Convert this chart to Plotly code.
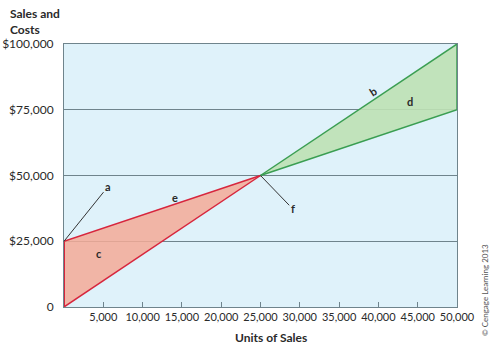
import plotly.graph_objects as go

units = [0, 25000, 50000]
sales = [0, 50000, 100000]
costs = [25000, 50000, 75000]
x_ticks = [5000, 10000, 15000, 20000, 25000, 30000, 35000, 40000, 45000, 50000]
x_labels = ["5,000", "10,000", "15,000", "20,000", "25,000", "30,000", "35,000", "40,000", "45,000", "50,000"]
y_ticks = [0, 25000, 50000, 75000, 100000]
y_labels = ["0", "$25,000", "$50,000", "$75,000", "$100,000"]

RED = "#d7263d"
RED_FILL = "rgba(244,170,150,0.85)"
GREEN = "#3a9e52"
GREEN_FILL = "rgba(190,225,180,0.9)"
GRID = "#6f848c"
TXT = "#2a2a2a"
FONT = "Lato"

fig = go.Figure()
# loss region
fig.add_trace(go.Scatter(x=units[:2], y=costs[:2], mode="lines", line=dict(color=RED, width=1.5), hoverinfo="skip"))
fig.add_trace(go.Scatter(x=units[:2], y=sales[:2], mode="lines", line=dict(color=RED, width=1.5),
                         fill="tonexty", fillcolor=RED_FILL, hoverinfo="skip"))
fig.add_trace(go.Scatter(x=[units[0], units[0]], y=[sales[0], costs[0]], mode="lines",
                         line=dict(color=RED, width=2), hoverinfo="skip"))
# profit region
fig.add_trace(go.Scatter(x=units[1:], y=costs[1:], mode="lines", line=dict(color=GREEN, width=1.5), hoverinfo="skip"))
fig.add_trace(go.Scatter(x=units[1:], y=sales[1:], mode="lines", line=dict(color=GREEN, width=1.5),
                         fill="tonexty", fillcolor=GREEN_FILL, hoverinfo="skip"))
fig.add_trace(go.Scatter(x=[units[2], units[2]], y=[costs[2], sales[2]], mode="lines",
                         line=dict(color=GREEN, width=1.5), hoverinfo="skip"))

lab = dict(family=FONT, size=11, color=TXT)
ann = [
    dict(x=units[0], y=costs[0], ax=5600, ay=45800, axref="x", ayref="y", text="<b>a</b>",
         showarrow=True, arrowhead=0, arrowwidth=1, arrowcolor="#333", standoff=0, font=lab),
    dict(x=units[1], y=sales[1], ax=29100, ay=37300, axref="x", ayref="y", text="<b>f</b>",
         showarrow=True, arrowhead=0, arrowwidth=1, arrowcolor="#333", standoff=0, font=lab),
    dict(x=14150, y=41800, text="<b>e</b>", showarrow=False, font=lab),
    dict(x=4450, y=20400, text="<b>c</b>", showarrow=False, font=lab),
    dict(x=39300, y=81900, text="<b>b</b>", showarrow=False, font=lab, textangle=-33),
    dict(x=44000, y=78000, text="<b>d</b>", showarrow=False, font=lab),
    dict(xref="paper", yref="paper", x=(8 - 64) / 393, y=1 + (44 - 4) / 263, xanchor="left", yanchor="top",
         text="<b>Sales and<br>Costs</b>", align="left", showarrow=False,
         font=dict(family=FONT, size=12, color=TXT)),
    dict(xref="paper", yref="paper", x=(271 - 64) / 393, y=-(337 - 307) / 263, xanchor="center", yanchor="middle",
         text="<b>Units of Sales</b>", showarrow=False, font=dict(family=FONT, size=12, color=TXT)),
    dict(xref="paper", yref="paper", x=(485 - 64) / 393, y=-(290 - 307) / 263, xanchor="center", yanchor="middle",
         text="© Cengage Learning 2013", textangle=-90, showarrow=False,
         font=dict(family=FONT, size=8, color="#555")),
]

fig.update_layout(
    width=500, height=352,
    margin=dict(l=64, r=43, t=44, b=45),
    paper_bgcolor="white", plot_bgcolor="#dff2fa",
    showlegend=False,
    annotations=ann,
    font=dict(family=FONT, size=11, color=TXT),
)
fig.update_xaxes(range=[0, 50000], tickvals=x_ticks, ticktext=x_labels, ticks="inside", ticklen=5,
                 tickcolor=GRID, showgrid=False, zeroline=False, showline=True, linecolor=GRID, mirror=True,
                 automargin=False,
                 tickfont=dict(family=FONT, size=11, color=TXT))
fig.update_yaxes(range=[0, 100000], tickvals=y_ticks, ticktext=y_labels, ticks="", showgrid=True,
                 gridcolor=GRID, gridwidth=1, zeroline=False, showline=True, linecolor=GRID, mirror=True,
                 ticklabelstandoff=7, automargin=False,
                 tickfont=dict(family=FONT, size=12, color=TXT))

fig.write_html("out.html")
